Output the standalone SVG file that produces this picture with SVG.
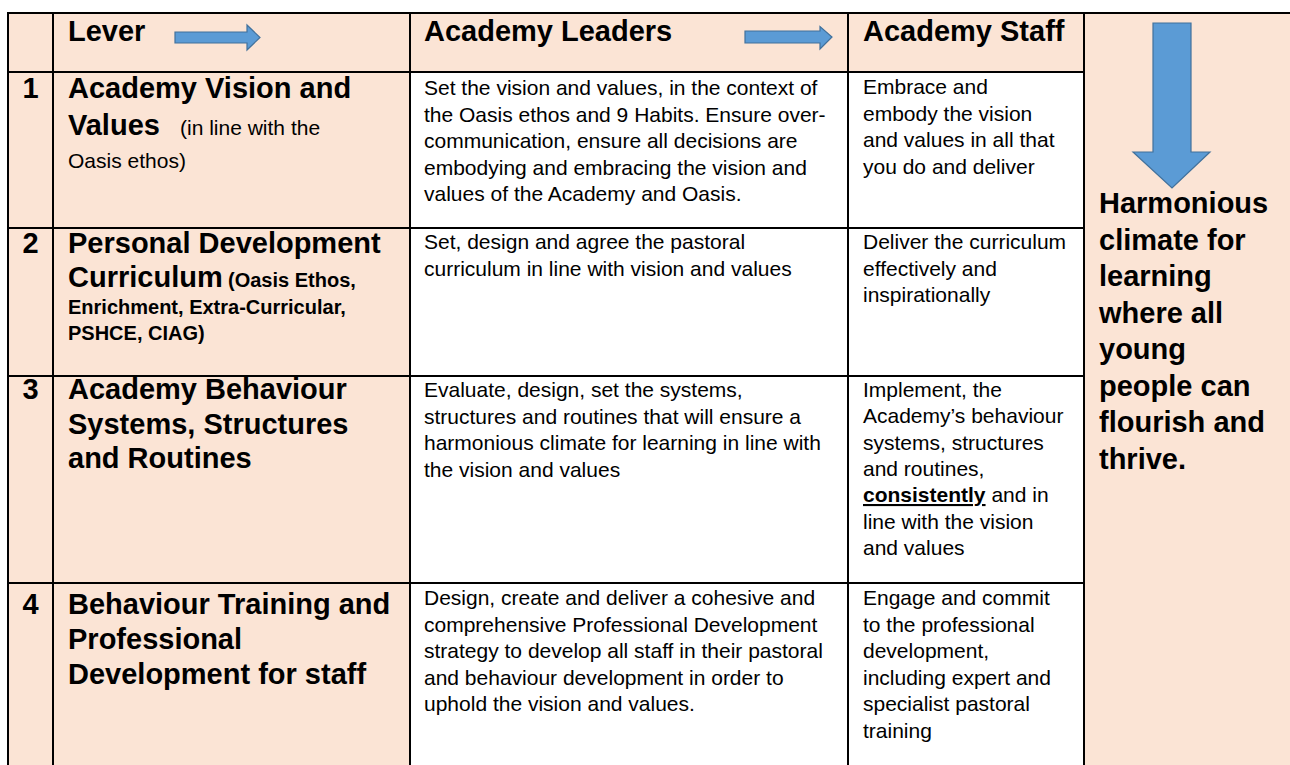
<svg xmlns="http://www.w3.org/2000/svg" width="1290" height="765" viewBox="0 0 1290 765">
<style>
.pink{fill:#FBE4D5}
.white{fill:#FFFFFF}
.ln{stroke:#000;stroke-width:2;fill:none}
.h{font-family:"Liberation Sans",Arial,sans-serif;font-weight:bold;font-size:29px;fill:#000}
.b{font-family:"Liberation Sans",Arial,sans-serif;font-size:21px;fill:#000}
.sb{font-family:"Liberation Sans",Arial,sans-serif;font-weight:bold;font-size:20px;fill:#000}
.n{font-family:"Liberation Sans",Arial,sans-serif;font-weight:bold;font-size:29px;fill:#000;text-anchor:middle}
.arr{fill:#5B9BD5;stroke:#41719C;stroke-width:1.2}
</style>
<rect x="0" y="0" width="1290" height="765" fill="#FFFFFF"/>
<g id="backgrounds">
<rect class="pink" x="8" y="13" width="1282" height="59"/>
<rect class="pink" x="8" y="13" width="402" height="752"/>
<rect class="pink" x="1084" y="13" width="206" height="752"/>
<rect class="white" x="410" y="72" width="674" height="693"/>
</g>
<g id="grid">
<line class="ln" x1="7" y1="13" x2="1290" y2="13"/>
<line class="ln" x1="8" y1="12" x2="8" y2="765"/>
<line class="ln" x1="53" y1="13" x2="53" y2="765"/>
<line class="ln" x1="410" y1="13" x2="410" y2="765"/>
<line class="ln" x1="848" y1="13" x2="848" y2="765"/>
<line class="ln" x1="1084" y1="13" x2="1084" y2="765"/>
<line class="ln" x1="8" y1="72" x2="1084" y2="72"/>
<line class="ln" x1="8" y1="228" x2="1084" y2="228"/>
<line class="ln" x1="8" y1="376" x2="1084" y2="376"/>
<line class="ln" x1="8" y1="583" x2="1084" y2="583"/>
</g>
<g id="header-lever"><text class="h" x="68" y="41">Lever</text></g>
<g id="header-leaders"><text class="h" x="424" y="41">Academy Leaders</text></g>
<g id="header-staff"><text class="h" x="863" y="41">Academy Staff</text></g>
<g id="connectors">
<polygon class="arr" points="175,32 247,32 247,25 260,37.5 247,50 247,43 175,43"/>
<polygon class="arr" points="745,31 820,31 820,26.5 832,37 820,49 820,43 745,43"/>
<polygon class="arr" points="1153,23 1191,23 1191,152 1210,152 1172,188 1133,152 1153,152"/>
</g>
<g id="row1-num"><text class="n" x="30.5" y="98">1</text></g>
<g id="row1-lever">
<text class="h" x="68" y="98">Academy Vision and</text>
<text x="68" y="135"><tspan class="h">Values</tspan><tspan class="b" x="180">(in line with the</tspan></text>
<text class="b" x="68" y="168">Oasis ethos)</text>
</g>
<g id="row1-leaders">
<text class="b" x="424" y="95">Set the vision and values, in the context of</text>
<text class="b" x="424" y="121.5">the Oasis ethos and 9 Habits. Ensure over-</text>
<text class="b" x="424" y="148">communication, ensure all decisions are</text>
<text class="b" x="424" y="174.5">embodying and embracing the vision and</text>
<text class="b" x="424" y="201">values of the Academy and Oasis.</text>
</g>
<g id="row1-staff">
<text class="b" x="863" y="94">Embrace and</text>
<text class="b" x="863" y="120.5">embody the vision</text>
<text class="b" x="863" y="147">and values in all that</text>
<text class="b" x="863" y="173.5">you do and deliver</text>
</g>
<g id="row2-num"><text class="n" x="30.5" y="253">2</text></g>
<g id="row2-lever">
<text class="h" x="68" y="253">Personal Development</text>
<text x="68" y="287"><tspan class="h">Curriculum</tspan><tspan class="sb" x="228">(Oasis Ethos,</tspan></text>
<text class="sb" x="68" y="314">Enrichment, Extra-Curricular,</text>
<text class="sb" x="68" y="340">PSHCE, CIAG)</text>
</g>
<g id="row2-leaders">
<text class="b" x="424" y="249">Set, design and agree the pastoral</text>
<text class="b" x="424" y="275.5">curriculum in line with vision and values</text>
</g>
<g id="row2-staff">
<text class="b" x="863" y="249">Deliver the curriculum</text>
<text class="b" x="863" y="275.5">effectively and</text>
<text class="b" x="863" y="302">inspirationally</text>
</g>
<g id="row3-num"><text class="n" x="30.5" y="399">3</text></g>
<g id="row3-lever">
<text class="h" x="68" y="399">Academy Behaviour</text>
<text class="h" x="68" y="433.5">Systems, Structures</text>
<text class="h" x="68" y="468">and Routines</text>
</g>
<g id="row3-leaders">
<text class="b" x="424" y="397">Evaluate, design, set the systems,</text>
<text class="b" x="424" y="423.5">structures and routines that will ensure a</text>
<text class="b" x="424" y="450">harmonious climate for learning in line with</text>
<text class="b" x="424" y="476.5">the vision and values</text>
</g>
<g id="row3-staff">
<text class="b" x="863" y="397">Implement, the</text>
<text class="b" x="863" y="423">Academy’s behaviour</text>
<text class="b" x="863" y="449.5">systems, structures</text>
<text class="b" x="863" y="476">and routines,</text>
<text x="863" y="502"><tspan class="b" font-weight="bold" text-decoration="underline">consistently</tspan><tspan class="b"> and in</tspan></text>
<text class="b" x="863" y="528.5">line with the vision</text>
<text class="b" x="863" y="555">and values</text>
</g>
<g id="row4-num"><text class="n" x="30.5" y="614">4</text></g>
<g id="row4-lever">
<text class="h" x="68" y="614">Behaviour Training and</text>
<text class="h" x="68" y="649">Professional</text>
<text class="h" x="68" y="684">Development for staff</text>
</g>
<g id="row4-leaders">
<text class="b" x="424" y="605">Design, create and deliver a cohesive and</text>
<text class="b" x="424" y="631.5">comprehensive Professional Development</text>
<text class="b" x="424" y="658">strategy to develop all staff in their pastoral</text>
<text class="b" x="424" y="684.5">and behaviour development in order to</text>
<text class="b" x="424" y="711">uphold the vision and values.</text>
</g>
<g id="row4-staff">
<text class="b" x="863" y="605">Engage and commit</text>
<text class="b" x="863" y="631.5">to the professional</text>
<text class="b" x="863" y="658">development,</text>
<text class="b" x="863" y="684.5">including expert and</text>
<text class="b" x="863" y="711">specialist pastoral</text>
<text class="b" x="863" y="737.5">training</text>
</g>
<g id="outcome">
<text class="h" x="1099" y="213">Harmonious</text>
<text class="h" x="1099" y="249.5">climate for</text>
<text class="h" x="1099" y="286">learning</text>
<text class="h" x="1099" y="322.5">where all</text>
<text class="h" x="1099" y="359">young</text>
<text class="h" x="1099" y="395.5">people can</text>
<text class="h" x="1099" y="432">flourish and</text>
<text class="h" x="1099" y="468.5">thrive.</text>
</g>
</svg>
